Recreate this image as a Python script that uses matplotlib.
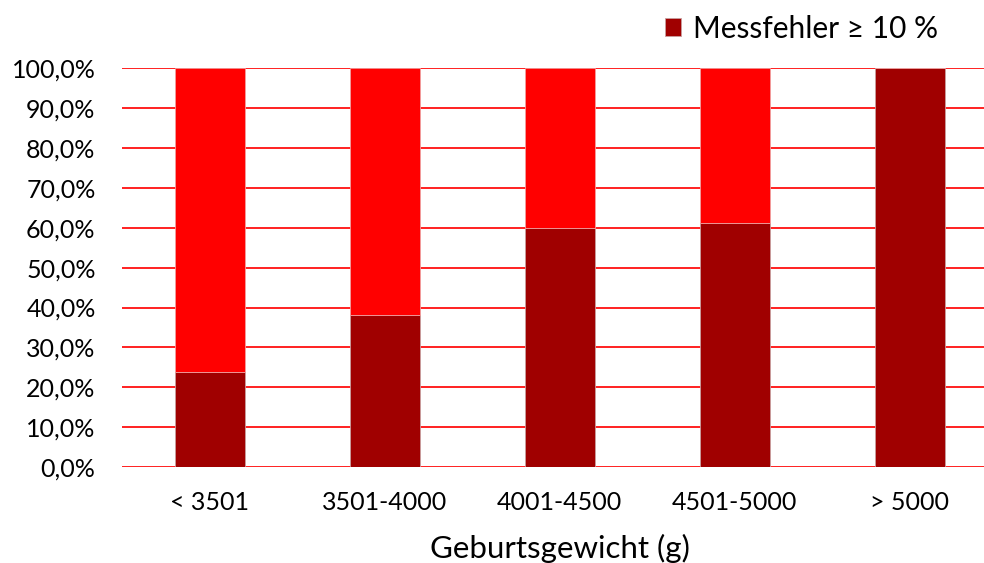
import matplotlib
matplotlib.use("Agg")
import matplotlib.pyplot as plt
from matplotlib.ticker import FuncFormatter

plt.rcParams['font.family'] = ['Lato', 'DejaVu Sans']

categories = ["< 3501", "3501-4000", "4001-4500", "4501-5000", "> 5000"]
error_ge10 = [23.9, 38.1, 60.0, 61.1, 100.0]   # Messfehler >= 10 %, in %
error_lt10 = [100.0 - v for v in error_ge10]

dark_red = "#A00000"
bright_red = "#FF0000"

fig = plt.figure(figsize=(9.84, 5.63), dpi=100)
W, H = 984, 563
x0, x1 = 122, 997
y_bottom, y_top = 467, 68.3
ax = fig.add_axes([x0 / W, (H - y_bottom) / H, (x1 - x0) / W, (y_bottom - y_top) / H])

xs = range(len(categories))
b1 = ax.bar(xs, error_ge10, width=0.4, color=dark_red, edgecolor="#c8a0a0",
            linewidth=0.6, label="Messfehler ≥ 10 %", zorder=3)
ax.bar(xs, error_lt10, bottom=error_ge10, width=0.4, color=bright_red,
       edgecolor="#f0a0a0", linewidth=0.6, zorder=3)

ax.set_xlim(-0.5, 4.5)
ax.set_ylim(0, 100)
ax.set_yticks(range(0, 101, 10))
ax.yaxis.set_major_formatter(FuncFormatter(lambda v, p: f"{v:.1f}%".replace(".", ",")))
ax.set_xticks(list(xs))
ax.set_xticklabels(categories)

ax.grid(axis="y", color="#ff2020", linewidth=1.4, zorder=0)
ax.set_axisbelow(True)
for s in ax.spines.values():
    s.set_visible(False)
ax.tick_params(axis="both", length=0, labelsize=18, colors="black")
ax.tick_params(axis="y", pad=19)
ax.tick_params(axis="x", pad=17)

ax.set_xlabel("Geburtsgewicht (g)", fontsize=22.5, labelpad=14.5)

leg = fig.legend(handles=[b1], loc="center left", bbox_to_anchor=(650 / W, 1 - 29 / H),
                 frameon=False, fontsize=21.5, handlelength=0.55, handleheight=0.55,
                 handletextpad=0.4, borderpad=0)

fig.savefig("out.png", dpi=100)
